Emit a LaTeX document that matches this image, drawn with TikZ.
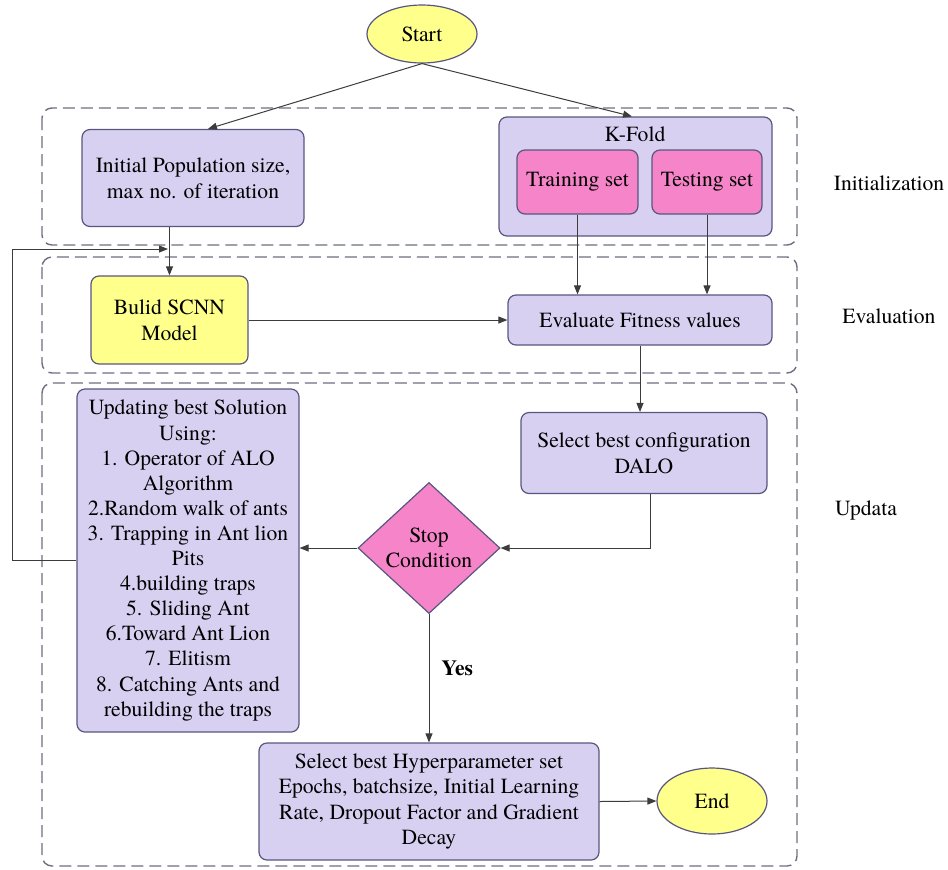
\documentclass[tikz,border=0pt]{standalone}
\usepackage{fontspec}
\setmainfont{texgyretermes}[Extension=.otf, UprightFont=*-regular, BoldFont=*-bold]
\usetikzlibrary{shapes.geometric,arrows.meta}
\definecolor{boxlilac}{RGB}{216,208,241}
\definecolor{boxedge}{RGB}{88,86,128}
\definecolor{boxpink}{RGB}{246,132,200}
\definecolor{boxyellow}{RGB}{255,255,140}
\definecolor{zonegray}{RGB}{110,110,130}
\definecolor{linkgray}{RGB}{60,60,60}
\begin{document}
\begin{tikzpicture}[x=0.5pt, y=-0.5pt,
    every node/.style={font=\rmfamily\fontsize{10.8}{12.8}\selectfont, align=center, inner sep=0pt},
    lilac/.style={draw=boxedge, fill=boxlilac, rounded corners=4pt, line width=0.6pt},
    pinkbox/.style={draw=boxedge, fill=boxpink, rounded corners=4pt, line width=0.6pt},
    yellowbox/.style={draw=boxedge, fill=boxyellow, rounded corners=4pt, line width=0.6pt},
    oval/.style={ellipse, draw=boxedge, fill=boxyellow, line width=0.6pt},
    zone/.style={draw=zonegray, dash pattern=on 6pt off 3pt, rounded corners=5pt, line width=0.7pt},
    link/.style={draw=linkgray, line width=0.5pt, -{Triangle[length=4.5pt,width=3.5pt]}}]
    \useasboundingbox (0,0) rectangle (948,869);
    \draw[zone] (42,108) rectangle (797,245);
    \draw[zone] (42,257) rectangle (797,373);
    \draw[zone] (42,383) rectangle (797,866);
    \node (initlbl) at (889,183) {Initialization};
    \node (evallbl) at (889,316) {Evaluation};
    \node (updlbl) at (866,510) {Updata};
    \node[oval, minimum width=55pt, minimum height=29pt] (start) at (422,34) {Start};
    \node[lilac, minimum width=111pt, minimum height=48.5pt] (init) at (193,178) {Initial Population size,\\max no. of iteration};
    \node[lilac, minimum width=136.5pt, minimum height=59.5pt] (kfold) at (635.5,176.5) {};
    \node (kfoldlbl) at (635,134) {K-Fold};
    \node[pinkbox, minimum width=60.5pt, minimum height=32pt] (train) at (577.5,182) {Training set};
    \node[pinkbox, minimum width=55pt, minimum height=32pt] (test) at (707,182) {Testing set};
    \node[yellowbox, minimum width=78.5pt, minimum height=44pt] (build) at (169.5,320) {Bulid SCNN\\Model};
    \node[lilac, minimum width=132pt, minimum height=25pt] (eval) at (640,320) {Evaluate Fitness values};
    \node[lilac, minimum width=123pt, minimum height=40.5pt] (config) at (644,453) {Select best configuration\\DALO};
    \node[diamond, draw=boxedge, fill=boxpink, line width=0.6pt, minimum width=71pt, minimum height=65.5pt] (stop) at (429,548) {Stop\\Condition};
    \node[lilac, minimum width=111pt, minimum height=171.5pt, font=\rmfamily\fontsize{10.8}{12.55}\selectfont] (update) at (188,560.5) {Updating best Solution\\Using:\\1. Operator of ALO\\Algorithm\\2.Random walk of ants\\3. Trapping in Ant lion\\Pits\\4.building traps\\5. Sliding Ant\\6.Toward Ant Lion\\7. Elitism\\8. Catching Ants and\\rebuilding the traps};
    \node[lilac, minimum width=170pt, minimum height=58.5pt, font=\rmfamily\fontsize{10.8}{12.6}\selectfont] (hyper) at (429,801.5) {Select best Hyperparameter set\\Epochs, batchsize, Initial Learning\\Rate, Dropout Factor and Gradient\\Decay};
    \node[oval, minimum width=55pt, minimum height=33pt] (end) at (712,801) {End};
    \coordinate (loopback) at (12,249);
    \coordinate (loopend) at (168,249);
    \draw[link] (start.south) -- ([xshift=7.5pt]init.north);
    \draw[link] (start.south) -- ([xshift=-1.75pt]kfold.north);
    \draw[link] (init.south -| build.north) -- (build.north);
    \draw[link] (train.south) -- (train.south |- eval.north);
    \draw[link] (test.south) -- (test.south |- eval.north);
    \draw[link] (build.east) -- (eval.west);
    \draw[link] (eval.south) -- (eval.south |- config.north);
    \draw[link] ([xshift=3pt]config.south) |- (stop.east);
    \draw[link] (stop.west) -- (stop.west -| update.east);
    \draw[link] (stop.south) -- node[pos=0.42, right=6pt, font=\rmfamily\bfseries\fontsize{10.8}{13}\selectfont] {Yes} (hyper.north);
    \draw[link] (hyper.east) -- (end.west);
    \draw[link] (update.west) -| (loopback) -- (loopend);
\end{tikzpicture}
\end{document}
